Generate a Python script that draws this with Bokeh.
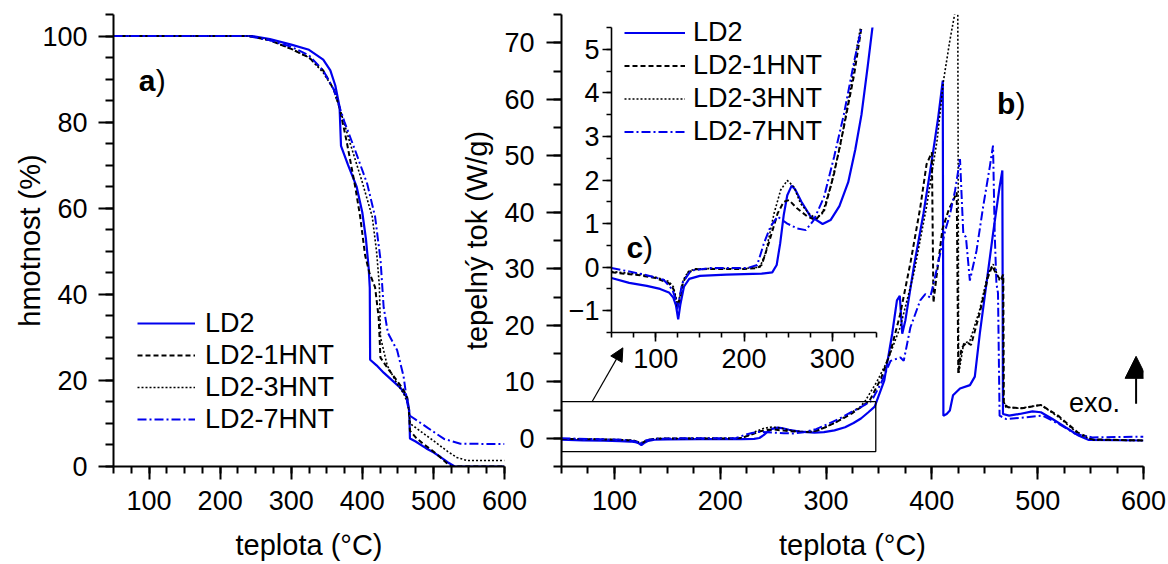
from bokeh.plotting import figure
from bokeh.models import (GridBox, Range1d, SingleIntervalTicker, Legend, LegendItem,
                          Label, Arrow, NormalHead, BoxAnnotation)
from bokeh.embed import file_html
from bokeh.resources import INLINE

FONT = "Liberation Sans"
BLUE = "#0000ee"

# ---------------- data: TGA (panel a) ----------------
ld2_tg_t = [50, 245, 270, 300, 325, 345, 355, 362, 368, 370, 380, 392, 400, 405, 409, 410.5, 411, 420, 430, 442,
            454, 463, 466, 467, 475, 490, 500, 510, 520, 530, 600]
ld2_tg_m = [100, 100, 99.3, 98, 96.8, 94.5, 92, 88.5, 83.5, 74.5, 70, 65, 59, 53, 46, 41.5, 24.8, 23.5, 21.8, 20,
            18.2, 16, 13, 6.5, 5.8, 4.2, 3.3, 2.2, 1.0, 0, 0]
hnt1_tg_t = [50, 240, 270, 300, 325, 345, 360, 368, 378, 390, 397, 404, 410, 418, 423, 425.5, 437, 449, 458, 463,
             466, 467, 476, 486, 500, 510, 518, 525, 600]
hnt1_tg_m = [100, 100, 99, 97, 95, 92, 87.5, 83.3, 75.5, 65, 58, 49, 45, 41.6, 34.6, 25.3, 22.5, 19.9, 17.8, 16,
             12, 8.3, 6.6, 5.2, 3.5, 2.1, 0.9, 0, 0]
hnt3_tg_t = [50, 240, 270, 300, 325, 345, 360, 368, 383, 400, 414, 420, 424, 425.6, 435, 449, 458, 463, 466, 467,
             485, 500, 520, 533, 547, 600]
hnt3_tg_m = [100, 100, 99, 97, 95, 91.5, 87.5, 83.3, 75, 66, 58, 50, 42, 30, 23.5, 19.2, 17, 15, 12.5, 10,
             7.8, 6.0, 3.5, 2.1, 1.4, 1.4]
hnt7_tg_t = [50, 240, 270, 300, 325, 345, 360, 368, 375, 390, 407, 418, 425.6, 430, 436, 449, 458, 463, 466, 467,
             491, 515, 538, 600]
hnt7_tg_m = [100, 100, 99, 97.5, 95.5, 92, 87.5, 83.5, 80, 73.4, 65.6, 58, 48, 37, 31, 27, 21, 15, 12.5, 11.8,
             9.1, 6.4, 5.3, 5.2]

# ---------------- data: DSC (panels b, c) ----------------
ld2_dsc_t = [50, 70, 90, 105, 115, 120, 123, 125.5, 128, 132, 138, 150, 180, 220, 232, 237, 241, 245, 249, 254,
             258, 265, 275, 289, 298, 308, 318, 326, 333, 340, 346, 355, 362.5, 367, 369.7, 372, 375, 383, 392, 400,
             406, 410.3, 410.9, 414, 417, 420, 426.6, 436, 440.6, 445.3, 451.6, 457.8, 464, 466.6, 467.2, 473, 483,
             495, 503, 514, 526.6, 539, 548.4, 600]
ld2_dsc_v = [-0.25, -0.36, -0.43, -0.5, -0.58, -0.7, -0.88, -1.2, -0.85, -0.45, -0.27, -0.2, -0.17, -0.15, -0.12,
             0.05, 0.55, 1.2, 1.65, 1.87, 1.78, 1.5, 1.17, 0.99, 1.08, 1.4, 1.95, 2.7, 3.5, 4.6, 5.6, 10.2, 18.5,
             24.4, 25.2, 18.5, 20.9, 30.4, 39.7, 49.2, 56.8, 63.3, 4.0, 4.3, 4.9, 7.6, 8.8, 9.4, 10.9, 18.5, 27.4,
             36.2, 44.5, 47.4, 4.3, 4.0, 4.3, 4.75, 4.6, 3.4, 1.9, 0.45, -0.3, -0.4]
hnt1_dsc_t = [50, 80, 100, 115, 120, 123, 125, 127.5, 131, 137, 145, 170, 200, 215, 220, 228, 238, 245, 251, 260,
              272, 281, 291, 302, 313, 324.5, 333, 341, 352, 361, 370, 380, 389, 395, 400, 401.5, 404, 410, 416,
              420, 423.5, 425, 428, 433, 437, 445, 453, 457, 461, 465, 467.5, 468, 472, 485, 503, 520, 538, 552, 600]
hnt1_dsc_v = [-0.12, -0.18, -0.25, -0.37, -0.5, -0.75, -0.92, -0.7, -0.35, -0.12, -0.05, -0.04, -0.04, -0.02, 0.05,
              0.55, 1.23, 1.5, 1.54, 1.35, 1.16, 1.08, 1.31, 2.15, 3.21, 4.4, 5.5, 6.6, 10.6, 15.4, 21.9, 31.3,
              40.8, 48.5, 50.6, 24, 28, 37, 40.5, 42, 43.5, 11.5, 16, 17, 16.5, 22, 28.5, 30.5, 29, 28, 29, 6, 5.5,
              5.3, 5.9, 3.9, 1.0, -0.2, -0.4]
hnt3_dsc_t = [50, 80, 100, 115, 120, 123, 125, 127.5, 131, 137, 145, 170, 200, 218, 224.5, 234, 241.5, 249, 256.6,
              264, 273.6, 281, 288.7, 298, 309.4, 320.8, 328.3, 332, 337, 348, 358, 370, 383, 395, 405, 411, 417,
              421.5, 423.5, 424.5, 425, 425.3, 430, 436, 445, 453, 458, 464, 467.2, 467.8, 470, 483, 503, 520, 539,
              552, 600]
hnt3_dsc_v = [-0.1, -0.16, -0.23, -0.33, -0.45, -0.7, -0.88, -0.65, -0.3, -0.1, -0.04, -0.03, -0.03, 0.0, 0.32,
              1.23, 1.77, 1.99, 1.84, 1.46, 1.23, 1.12, 1.23, 1.84, 2.83, 4.12, 5.11, 5.5, 6.6, 10.0, 13.7, 19.6,
              29.2, 41.0, 52.8, 63.3, 70.4, 75, 82, 75, 36, 11.4, 16.7, 17.3, 22.6, 29.1, 30.8, 27.9, 28.5, 6.6,
              5.5, 5.3, 5.9, 3.7, 0.7, -0.3, -0.4]
hnt7_dsc_t = [50, 87, 109, 119, 122, 124.5, 127, 130, 140, 162, 204, 215, 222.6, 230, 238, 249, 260, 270, 279,
              290.6, 302, 313, 324.5, 333, 343, 351.6, 361, 370.3, 373.4, 379.7, 389, 393.8, 398.4, 401.6, 407.8,
              412.5, 417.2, 421.9, 426.6, 429.7, 432.2, 435.9, 442.2, 448.4, 454.7, 457.8, 459.4, 461, 462.5, 464,
              470.3, 489, 504.7, 520.3, 535.9, 551.6, 600]
hnt7_dsc_v = [-0.02, -0.17, -0.29, -0.52, -0.7, -0.97, -0.7, -0.37, -0.08, -0.02, -0.02, 0.05, 0.55, 0.93, 1.16,
              1.0, 0.89, 0.85, 1.08, 1.61, 2.53, 3.5, 4.7, 5.5, 6.6, 9.6, 13.7, 14.3, 13.7, 19.6, 24.4, 25.5, 24.9,
              27.4, 32.6, 36.7, 39.7, 43.8, 49.4, 36.2, 35.6, 27.9, 33.2, 40.9, 48, 51.8, 36.2, 27.4, 25.7, 4.0,
              3.4, 3.7, 4.0, 2.5, 0.74, 0.15, 0.27]

series_names = ["LD2", "LD2-1HNT", "LD2-3HNT", "LD2-7HNT"]
tg_data = [(ld2_tg_t, ld2_tg_m), (hnt1_tg_t, hnt1_tg_m), (hnt3_tg_t, hnt3_tg_m), (hnt7_tg_t, hnt7_tg_m)]
dsc_data = [(ld2_dsc_t, ld2_dsc_v), (hnt1_dsc_t, hnt1_dsc_v), (hnt3_dsc_t, hnt3_dsc_v), (hnt7_dsc_t, hnt7_dsc_v)]
styles = [dict(line_color=BLUE, line_dash="solid", line_width=2.2),
          dict(line_color="black", line_dash="5 3", line_width=2.0),
          dict(line_color="black", line_dash="2 2", line_width=1.6),
          dict(line_color=BLUE, line_dash="9 3 2 3", line_width=2.0)]

# zoom rectangle (temperature / heat-flow extents)
zoom_box_t = [50, 347]
zoom_box_v = [-2.35, 6.5]

# common borders (GridBox aligns the borders of figures sharing a cell)
BL, BR, BT, BB = 131, 25, 14, 98


def make_fig(frame_left, frame_top, fw, fh, xr, yr):
    p = figure(width=BL + fw + BR, height=BT + fh + BB, x_range=Range1d(*xr), y_range=Range1d(*yr),
               output_backend="svg", toolbar_location=None,
               min_border_left=BL, min_border_right=BR, min_border_top=BT, min_border_bottom=BB)
    p.margin = (frame_top - BT, 0, 0, frame_left - BL)
    p.border_fill_alpha = 0
    p.background_fill_alpha = 0
    p.outline_line_color = None
    p.grid.visible = False
    return p


def style_axis(ax, major_out, minor_out, label_standoff, title_standoff, lw, tick_size="27px"):
    ax.major_tick_in = 0
    ax.minor_tick_in = 0
    ax.major_tick_out = major_out
    ax.minor_tick_out = minor_out
    ax.axis_line_width = lw
    ax.major_tick_line_width = lw
    ax.minor_tick_line_width = lw
    ax.axis_line_color = "black"
    ax.major_tick_line_color = "black"
    ax.minor_tick_line_color = "black"
    ax.major_label_text_font = FONT
    ax.major_label_text_font_size = tick_size
    ax.major_label_text_color = "black"
    ax.major_label_standoff = label_standoff
    ax.axis_label_text_font = FONT
    ax.axis_label_text_font_size = "29px"
    ax.axis_label_text_font_style = "normal"
    ax.axis_label_text_color = "black"
    ax.axis_label_standoff = title_standoff


def panel_label(p, x, y, letter, offset):
    p.add_layout(Label(x=x, y=y, text=letter, text_font=FONT, text_font_size="30px",
                       text_font_style="bold", text_baseline="alphabetic", text_color="black"))
    p.add_layout(Label(x=x, y=y, x_offset=offset, text=")", text_font=FONT, text_font_size="30px",
                       text_baseline="alphabetic", text_color="black"))


def make_legend(items, loc, glyph_w, row_h, standoff):
    return Legend(items=items, location=loc, glyph_width=glyph_w, glyph_height=row_h, label_height=row_h,
                  label_standoff=standoff, spacing=0, padding=0, margin=0, border_line_color=None,
                  background_fill_alpha=0, label_text_font=FONT, label_text_font_size="27px",
                  label_text_color="black")


# ---------------- panel a ----------------
pa = make_fig(113, 14, 391, 452, (50, 600), (0, 105))
pa.xaxis.ticker = SingleIntervalTicker(interval=100, num_minor_ticks=4)
pa.yaxis.ticker = SingleIntervalTicker(interval=20, num_minor_ticks=4)
pa.xaxis.axis_label = "teplota (°C)"
pa.yaxis.axis_label = "hmotnost (%)"
style_axis(pa.xaxis[0], 13, 7, 11, 16, 2)
style_axis(pa.yaxis[0], 15, 8, 11, -7, 2)
items_a = []
for name, (t, m), st in zip(series_names, tg_data, styles):
    r = pa.line(t, m, **st)
    items_a.append(LegendItem(label=name, renderers=[r]))
pa.add_layout(make_legend(items_a, (24, 31), 58, 32, 10))
panel_label(pa, 85.6, 89.7, "a", 17)

# ---------------- panel b ----------------
pb = make_fig(561, 14, 582, 452, (50, 600), (-5, 75))
pb.xaxis.ticker = SingleIntervalTicker(interval=100, num_minor_ticks=4)
pb.yaxis.ticker = SingleIntervalTicker(interval=10, num_minor_ticks=2)
pb.xaxis.axis_label = "teplota (°C)"
pb.yaxis.axis_label = "tepelný tok (W/g)"
style_axis(pb.xaxis[0], 13, 7, 11, 16, 2)
style_axis(pb.yaxis[0], 15, 8, 12, 8, 2)
items_b = []
for name, (t, v), st in zip(series_names, dsc_data, styles):
    r = pb.line(t, v, **st)
    items_b.append(LegendItem(label=name, renderers=[r]))
# legend of the inset (c), drawn in the main panel's layer so that it is not clipped
pb.add_layout(make_legend(items_b, (63, 318), 61, 33, 8))
pb.add_layout(BoxAnnotation(left=zoom_box_t[0], right=zoom_box_t[1], bottom=zoom_box_v[0], top=zoom_box_v[1],
                            fill_alpha=0, line_color="black", line_width=1.3, line_alpha=1))
pb.add_layout(Arrow(end=NormalHead(size=13, fill_color="black", line_color="black"),
                    x_start=79, y_start=zoom_box_v[1], x_end=108, y_end=16,
                    line_color="black", line_width=1.2))
pb.add_layout(Arrow(end=NormalHead(size=22, fill_color="black", line_color="black"),
                    x_start=593, y_start=6.1, x_end=593, y_end=14.5,
                    line_color="black", line_width=2))
pb.add_layout(Label(x=577.8, y=6.3, text="exo.", text_font=FONT, text_font_size="27px",
                    text_align="right", text_baseline="alphabetic", text_color="black"))
panel_label(pb, 461.5, 59.2, "b", 18.5)

# ---------------- panel c (inset) ----------------
pc = make_fig(611, 27, 265, 305, (50, 350), (-1.5, 5.5))
pc.xaxis.ticker = SingleIntervalTicker(interval=100, num_minor_ticks=4)
pc.yaxis.ticker = SingleIntervalTicker(interval=1, num_minor_ticks=2)
style_axis(pc.xaxis[0], 9, 5, 7, 0, 1.6)
style_axis(pc.yaxis[0], 9, 5, 3, 0, 1.6)
for (t, v), st in zip(dsc_data, styles):
    pc.line(t, v, **st)
panel_label(pc, 67, 0.46, "c", 16.5)

layout = GridBox(children=[(pa, 0, 0), (pb, 0, 0), (pc, 0, 0)])
open("out.html", "w").write(file_html(layout, INLINE))
